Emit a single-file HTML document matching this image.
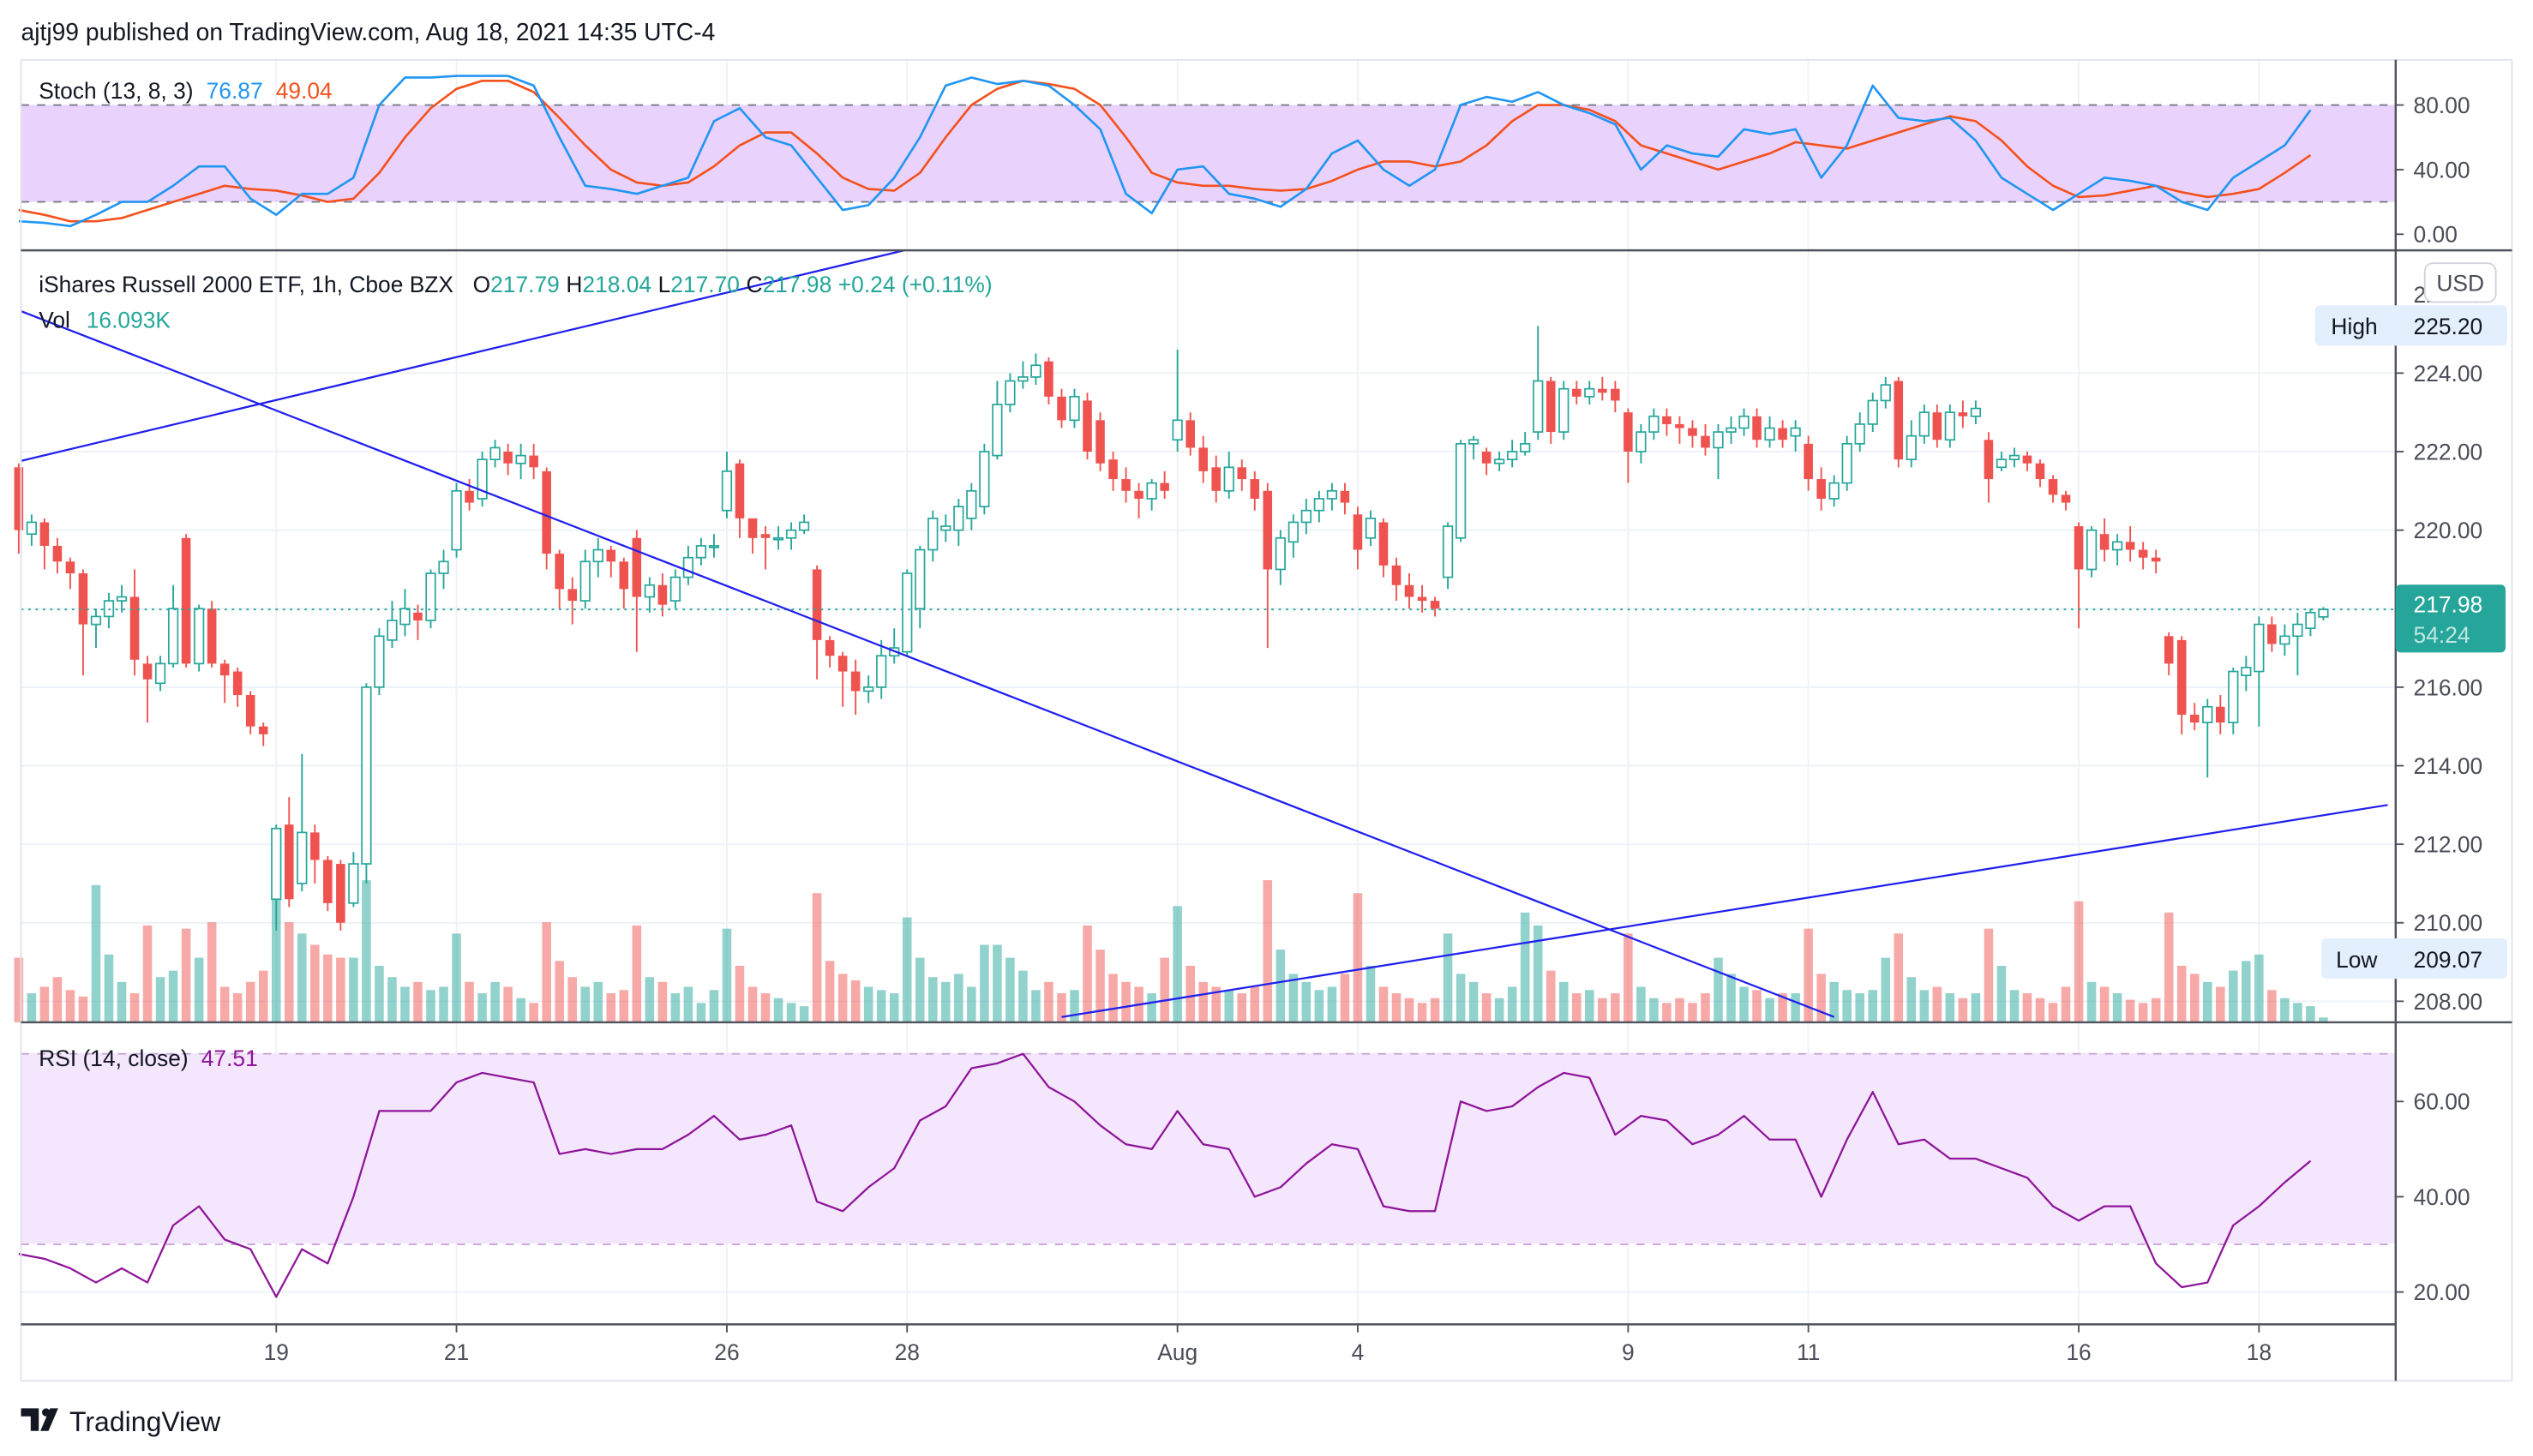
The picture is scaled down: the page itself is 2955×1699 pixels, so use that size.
<!DOCTYPE html>
<html><head><meta charset="utf-8">
<style>
html,body{margin:0;padding:0;background:#fff;}
svg{display:block;font-family:"Liberation Sans",sans-serif;}
</style></head>
<body>
<svg id="chart" width="2955" height="1699" viewBox="0 0 1568 901.5" xmlns="http://www.w3.org/2000/svg">
<rect x="0" y="0" width="1568" height="901.5" fill="#fff"/>
<text x="13" y="25" font-size="15" fill="#131722">ajtj99 published on TradingView.com, Aug 18, 2021 14:35 UTC-4</text>
<g id="grid"></g>
<rect x="13" y="65" width="1470" height="60" fill="#e9d3fd"/>
<rect x="13" y="652" width="1470" height="118" fill="#f4e6fd"/>
<g id="bands"></g>
<g id="vol"></g>
<g id="candles"></g>
<g id="lines"></g>
<g id="axes"></g>
</svg>
<script>
// ---------- DATA ----------
const firstBar = -20;
const dayLabels = ["19","21","26","28","Aug","4","9","11","16","18"];
const dayLabelBars = [0,14,35,49,70,84,105,119,140,154];
const priceTicks = [224,222,220,218,216,214,212,210,208];
const stochTicks = [80,40,0];
const rsiTicks = [60,40,20];
const opens = [221.6,219.9,220.2,219.6,219.2,218.9, 217.6,217.8,218.2,218.3,216.6,216.1,216.6, 219.8,216.6,218.0,216.6,216.4,215.8,215.0,
210.6,212.5,211.0,212.3,211.6,211.5,210.5, 211.5,216.0,217.2,217.6,217.9,217.7,218.9, 219.5,221.0,220.8,221.8,222.0,221.7,221.9,
221.5,219.4,218.5,218.2,219.2,219.5,219.2, 219.8,218.3,218.6,218.2,218.8,219.3,219.6, 220.5,221.7,220.3,219.9,219.8,219.8,220.0,
219.0,217.2,216.8,216.4,215.9,216.0,216.8, 216.9,218.0,219.5,220.0,220.0,220.3,220.6, 221.9,223.2,223.8,223.9,224.3,223.4,222.8,
223.3,222.8,221.8,221.3,221.0,220.8,221.2, 222.3,222.8,222.1,221.6,221.0,221.6,221.3, 221.0,219.0,219.7,220.2,220.5,220.8,221.0,
220.4,219.8,220.2,219.1,218.6,218.3,218.2, 218.8,219.8,222.2,222.0,221.7,221.8,222.0, 222.5,223.8,222.5,223.6,223.4,223.6,223.6,
223.0,222.0,222.5,222.9,222.7,222.6,222.4, 222.1,222.5,222.6,222.9,222.3,222.6,222.4, 222.2,221.3,220.8,221.2,222.2,222.7,223.3,
223.8,221.8,222.4,223.0,222.3,223.0,222.9, 222.3,221.6,221.8,221.9,221.7,221.3,220.9, 220.1,219.0,219.9,219.5,219.7,219.5,219.3,
217.3,217.2,215.3,215.1,215.5,215.1,216.3, 216.4,217.6,217.1,217.3,217.5,217.79];
const highs = [221.7,220.4,220.3,219.8,219.3,219.0, 218.0,218.4,218.6,219.0,216.8,216.8,218.6, 219.9,218.1,218.2,216.7,216.5,215.9,215.1,
212.5,213.2,214.3,212.5,211.7,211.6,211.8, 216.1,217.5,218.2,218.5,218.1,219.0,219.5, 221.2,221.3,222.0,222.3,222.2,222.2,222.2,
221.6,219.5,218.8,219.5,219.8,219.6,219.3, 220.0,218.8,218.9,219.0,219.6,219.8,219.9, 222.0,221.8,220.2,220.1,220.1,220.2,220.4,
219.1,217.3,216.9,216.7,216.3,217.2,217.5, 219.0,219.6,220.5,220.4,220.8,221.2,222.2, 223.8,224.0,224.3,224.5,224.4,223.6,223.6,
223.5,223.0,222.0,221.6,221.2,221.3,221.5, 224.6,223.0,222.4,221.9,222.0,221.8,221.5, 221.2,220.0,220.4,220.8,221.0,221.2,221.2,
220.6,220.5,220.3,219.3,218.9,218.6,218.3, 220.2,222.3,222.4,222.1,222.0,222.3,222.5, 225.2,223.9,223.8,223.8,223.8,223.9,223.8,
223.1,222.7,223.1,223.1,222.9,222.8,222.7, 222.7,222.9,223.1,223.1,222.9,222.8,222.8, 222.4,221.6,221.4,222.4,223.0,223.5,223.9,
223.9,222.8,223.2,223.2,223.2,223.3,223.3, 222.5,222.0,222.1,222.0,221.8,221.4,221.0, 220.2,220.1,220.3,219.9,220.1,219.7,219.5,
217.4,217.3,215.6,215.7,215.8,216.5,216.8, 217.8,217.8,217.6,217.9,218.0,218.04];
const lows = [219.4,219.6,219.0,218.9,218.5,216.3, 217.0,217.5,217.9,216.3,215.1,215.9,216.5, 216.5,216.4,216.5,215.6,215.5,214.8,214.5,
209.8,210.4,210.8,211.0,210.3,209.8,210.4, 211.0,215.8,217.0,217.3,217.2,217.5,218.5, 219.3,220.5,220.6,221.6,221.4,221.3,221.3,
219.0,218.0,217.6,218.0,218.8,218.8,218.0, 216.9,217.9,217.8,218.0,218.6,219.1,219.3, 220.3,219.8,219.4,219.0,219.5,219.5,219.9,
216.2,216.5,215.5,215.3,215.6,215.7,216.6, 216.8,217.5,219.2,219.7,219.6,220.0,220.4, 221.8,223.0,223.6,223.7,223.2,222.6,222.6,
221.8,221.5,221.0,220.7,220.3,220.5,220.8, 222.0,221.9,221.2,220.7,220.8,221.0,220.5, 217.0,218.6,219.3,219.9,220.2,220.5,220.4,
219.0,219.6,218.8,218.2,218.0,217.9,217.8, 218.5,219.7,221.8,221.4,221.5,221.6,221.9, 222.3,222.2,222.3,223.2,223.2,223.3,223.0,
221.2,221.7,222.3,222.4,222.2,222.1,221.9, 221.3,222.2,222.4,222.1,222.1,222.1,222.0, 221.0,220.5,220.6,221.0,222.0,222.5,223.1,
221.6,221.6,222.2,222.1,222.1,222.6,222.7, 220.7,221.5,221.6,221.5,221.1,220.7,220.5, 217.5,218.8,219.2,219.1,219.2,219.0,218.9,
216.3,214.8,214.9,213.7,214.8,214.8,215.9, 215.0,216.9,216.8,216.3,217.3,217.70];
const closes = [220.0,220.2,219.6,219.2,218.9,217.6, 217.8,218.2,218.3,216.7,216.2,216.6,218.0, 216.6,218.0,216.6,216.3,215.8,215.0,214.8,
212.4,210.6,212.3,211.6,210.5,210.0,211.5, 216.0,217.3,217.7,218.0,217.7,218.9,219.2, 221.0,220.7,221.8,222.1,221.7,221.9,221.6,
219.4,218.5,218.2,219.2,219.5,219.2,218.5, 218.3,218.6,218.1,218.8,219.3,219.6,219.6, 221.5,220.3,219.8,219.8,219.8,220.0,220.2,
217.2,216.8,216.4,215.9,216.0,216.8,217.0, 218.9,219.5,220.3,220.1,220.6,221.0,222.0, 223.2,223.8,223.9,224.2,223.4,222.8,223.4,
222.0,221.7,221.3,221.0,220.8,221.2,221.0, 222.8,222.1,221.5,221.0,221.6,221.3,220.8, 219.0,219.8,220.2,220.5,220.8,221.0,220.7,
219.5,220.3,219.1,218.6,218.3,218.2,218.0, 220.1,222.2,222.3,221.7,221.8,222.0,222.2, 223.8,222.5,223.6,223.4,223.6,223.5,223.3,
222.0,222.5,222.9,222.7,222.6,222.4,222.1, 222.5,222.6,222.9,222.3,222.6,222.3,222.6, 221.3,220.8,221.2,222.2,222.7,223.3,223.7,
221.8,222.4,223.0,222.3,223.0,222.9,223.1, 221.3,221.8,221.9,221.7,221.3,220.9,220.7, 219.0,220.0,219.5,219.7,219.5,219.3,219.2,
216.6,215.3,215.1,215.5,215.1,216.4,216.5, 217.6,217.1,217.3,217.6,217.9,217.98];
const volumes = [40,18,22,28,20,16, 85,42,25,18,60,28,32, 58,40,62,22,18,25,32,
120,62,55,48,42,40,40, 88,35,28,22,25,20,22, 55,25,18,25,22,15,12,
62,38,28,22,25,18,20, 60,28,25,18,22,12,20, 58,35,22,18,15,12,10,
80,38,30,26,22,20,18, 65,40,28,25,30,22,48, 48,40,32,20,25,18,20,
60,45,30,25,22,18,40, 72,35,25,22,20,18,22, 88,45,30,25,20,22,30,
80,35,22,18,15,12,15, 55,30,25,18,15,22,68, 60,32,25,18,20,15,18,
55,22,15,12,15,12,18, 40,30,22,20,15,18,18, 58,30,25,20,18,20,40,
55,28,20,22,18,15,18, 58,35,20,18,15,12,22, 75,25,22,18,14,12,15,
68,35,30,25,22,32,38, 42,20,15,12,10,3];
// oscillators sampled every 2 bars
const stochK = [8,7,5,12,20,20,30,42,42,22,12,25,25,35,80,97,97,98,98,98,92,60,30,28,25,30,35,70,78,60,55,35,15,18,35,60,92,97,93,95,92,80,65,25,13,40,42,25,22,17,28,50,58,40,30,40,80,85,82,88,80,75,68,40,55,50,48,65,62,65,35,55,92,72,70,72,58,35,25,15,25,35,33,30,20,15,35,45,55,76.87];
const stochD = [15,12,8,8,10,15,20,25,30,28,27,24,20,22,38,60,78,90,95,95,88,72,55,40,32,30,32,42,55,63,63,50,35,28,27,38,60,80,90,95,93,90,80,60,38,32,30,30,28,27,28,33,40,45,45,42,45,55,70,80,80,77,70,55,50,45,40,45,50,57,55,53,58,63,68,73,70,58,42,30,23,24,27,30,26,23,25,28,38,49.04];
const rsi = [28,27,25,22,25,22,34,38,31,29,19,29,26,40,58,58,58,64,66,65,64,49,50,49,50,50,53,57,52,53,55,39,37,42,46,56,59,67,68,70,63,60,55,51,50,58,51,50,40,42,47,51,50,38,37,37,60,58,59,63,66,65,53,57,56,51,53,57,52,52,40,52,62,51,52,48,48,46,44,38,35,38,38,26,21,22,34,38,43,47.51];
// trendlines: [barA, priceA, barB, priceB]
const trend1 = [-20, 221.75, 51, 227.3];
const trend2 = [-20, 225.6, 121, 207.6];
const trend3 = [61, 207.6, 164, 213.0];

// ---------- SCALES ----------
const NS="http://www.w3.org/2000/svg";
const L=13, R=1483;
const bx = k => 171 + k*7.97;
const py = p => 231 + (224-p)*24.31;
const sy = v => 145 - v;
const ry = v => 800 - (v-20)*2.95;
const vy = v => 633 - v;
function mk(tag, attrs, parent){const e=document.createElementNS(NS,tag);for(const k in attrs)e.setAttribute(k,attrs[k]);parent.appendChild(e);return e;}
const G=id=>document.getElementById(id);

// grid
const grid=G('grid');
dayLabelBars.forEach(k=>{const l=mk('line',{x1:bx(k),x2:bx(k),y1:37,y2:820,stroke:'#eef1f6','stroke-width':1},grid);

});
priceTicks.forEach(p=>{const l=mk('line',{x1:L,x2:R,y1:py(p),y2:py(p),stroke:'#eef1f6'},grid);

});
[40].forEach(v=>{mk('line',{x1:L,x2:R,y1:sy(v),y2:sy(v),stroke:'#d8c4f0'},grid);});
rsiTicks.forEach(v=>{mk('line',{x1:L,x2:R,y1:ry(v),y2:ry(v),stroke:'#eef1f6'},grid);});

// bands dashed lines
const bands=G('bands');
[80,20].forEach(v=>{const l=mk('line',{x1:L,x2:R,y1:sy(v),y2:sy(v),stroke:'#787b86','stroke-dasharray':'5,5'},bands);

});
[70,30].forEach(v=>{const l=mk('line',{x1:L,x2:R,y1:ry(v),y2:ry(v),stroke:'#c7a6d6','stroke-dasharray':'5,5'},bands);

});

// volume + candles
const vol=G('vol'), cg=G('candles');
closes.forEach((c,i)=>{
 const k=firstBar+i, x=bx(k), o=opens[i], up=c>=o;
 const v=mk('rect',{x:x-2.8,y:vy(volumes[i]),width:5.6,height:volumes[i],fill:up?'#26a69a':'#ef5350','fill-opacity':0.5},vol);
 
 
 const col=up?'#26a69a':'#ef5350';
 const w=mk('line',{x1:x,x2:x,y1:py(highs[i]),y2:py(lows[i]),stroke:col,'stroke-width':1},cg);
 
 
 const top=py(Math.max(o,c)), h=Math.max(1,Math.abs(py(o)-py(c)));
 const b=mk('rect',{x:x-2.8,y:top,width:5.6,height:h,fill:up?'#ffffff':col,stroke:col,'stroke-width':up?0.9:0},cg);
 
 
});

// current price dotted line
const cp=mk('line',{x1:L,x2:R,y1:py(closes[closes.length-1]),y2:py(closes[closes.length-1]),stroke:'#26a69a','stroke-dasharray':'1.5,3'},G('lines'));



// oscillator lines
function poly(arr, yf, color, name, w){
 const pts=arr.map((v,j)=>bx(firstBar+2*j).toFixed(1)+','+yf(v).toFixed(1)).join(' ');
 const p=mk('polyline',{points:pts,fill:'none',stroke:color,'stroke-width':w||1.4,'stroke-linejoin':'round'},G('lines'));
 
 
}
poly(stochD, sy, '#f4511e', 'stoch-d-line');
poly(stochK, sy, '#2196f3', 'stoch-k-line');
poly(rsi, ry, '#8e1599', 'rsi-line', 1.2);

// trendlines, clipped to main pane
const cl=mk('clipPath',{id:'mainclip'},G('lines'));
mk('rect',{x:L,y:155,width:R-L,height:478},cl);
[trend1,trend2,trend3].forEach(t=>{
 const l=mk('line',{x1:bx(t[0]),y1:py(t[1]),x2:bx(t[2]),y2:py(t[3]),stroke:'#2020ee','stroke-width':1.2,'clip-path':'url(#mainclip)'},G('lines'));
 
 
});

// axes & frame
const ax=G('axes');
mk('line',{x1:L,x2:1555,y1:37,y2:37,stroke:'#e0e3eb'},ax);
mk('line',{x1:L,x2:L,y1:37,y2:855,stroke:'#e0e3eb'},ax);
mk('line',{x1:1555,x2:1555,y1:37,y2:855,stroke:'#e0e3eb'},ax);
mk('line',{x1:L,x2:1555,y1:855,y2:855,stroke:'#e0e3eb'},ax);
[155,633].forEach(y=>{const l=mk('line',{x1:L,x2:1555,y1:y,y2:y,stroke:'#50535e','stroke-width':1.3},ax);
 
 });
mk('line',{x1:L,x2:R,y1:820,y2:820,stroke:'#50535e','stroke-width':1.3},ax);
mk('line',{x1:R,x2:R,y1:37,y2:855,stroke:'#50535e','stroke-width':1.3},ax);

function txt(s,x,y,attrs,name,inter){const t=mk('text',Object.assign({x:x,y:y,'font-size':14,fill:'#131722'},attrs||{}),ax);t.textContent=s;
 
 return t;}

// price tick labels
txt('226.00',1494,py(226)+5,{fill:'#4a4d57'},'price-tick-label');
priceTicks.forEach(p=>{mk('line',{x1:R,x2:R+5,y1:py(p),y2:py(p),stroke:'#50535e'},ax);
 txt(p.toFixed(2),1494,py(p)+5,{fill:'#4a4d57'},'price-tick-label');});
stochTicks.forEach(v=>{mk('line',{x1:R,x2:R+5,y1:sy(v),y2:sy(v),stroke:'#50535e'},ax);
 txt(v.toFixed(2),1494,sy(v)+5,{fill:'#4a4d57'},'stoch-tick-label');});
rsiTicks.forEach(v=>{mk('line',{x1:R,x2:R+5,y1:ry(v),y2:ry(v),stroke:'#50535e'},ax);
 txt(v.toFixed(2),1494,ry(v)+5,{fill:'#4a4d57'},'rsi-tick-label');});
dayLabels.forEach((s,i)=>{mk('line',{x1:bx(dayLabelBars[i]),x2:bx(dayLabelBars[i]),y1:820,y2:825,stroke:'#50535e'},ax);
 txt(s,bx(dayLabelBars[i]),842,{'text-anchor':'middle',fill:'#4a4d57'},'time-tick-label');});

// USD box
const ub=mk('rect',{x:1501,y:163,width:44,height:24,rx:5,fill:'#fff',stroke:'#d1d4dc'},ax);


txt('USD',1523,180,{'text-anchor':'middle',fill:'#4a4d57'},'currency-label',true);
// High/Low
mk('rect',{x:1433,y:189,width:119,height:25,rx:3,fill:'#e3effd'},ax);
txt('High',1443,207,{},'high-label');
txt('225.20',1494,207,{},'high-value');
mk('rect',{x:1437,y:581,width:115,height:25,rx:3,fill:'#e3effd'},ax);
txt('Low',1446,599,{},'low-label');
txt('209.07',1494,599,{},'low-value');
// current price label
const cb=mk('rect',{x:R,y:362,width:68,height:42,rx:3,fill:'#26a69a'},ax);


txt('217.98',1494,379,{fill:'#fff'},'last-price-value');
txt('54:24',1494,398,{fill:'#bfe7e2'},'bar-countdown');

// legends
const lg1=txt('',24,61,{},'stoch-legend');
lg1.innerHTML='<tspan fill="#131722">Stoch (13, 8, 3)</tspan><tspan dx="8" fill="#2196f3">76.87</tspan><tspan dx="8" fill="#f4511e">49.04</tspan>';
const lg2=txt('',24,181,{},'main-legend');
lg2.innerHTML='<tspan fill="#131722">iShares Russell 2000 ETF, 1h, Cboe BZX</tspan><tspan dx="12" fill="#131722">O</tspan><tspan fill="#26a69a">217.79</tspan><tspan dx="4" fill="#131722">H</tspan><tspan fill="#26a69a">218.04</tspan><tspan dx="4" fill="#131722">L</tspan><tspan fill="#26a69a">217.70</tspan><tspan dx="4" fill="#131722">C</tspan><tspan fill="#26a69a">217.98</tspan><tspan dx="4" fill="#26a69a">+0.24 (+0.11%)</tspan>';
const lg3=txt('',24,203,{},'volume-legend');
lg3.innerHTML='<tspan fill="#131722">Vol</tspan><tspan dx="10" fill="#26a69a">16.093K</tspan>';
const lg4=txt('',24,660,{},'rsi-legend');
lg4.innerHTML='<tspan fill="#131722">RSI (14, close)</tspan><tspan dx="8" fill="#8e1599">47.51</tspan>';

// logo
const lgo=mk('g',{},ax);


mk('path',{d:'M13 872 h11 v14 h-5 v-9 h-6 z M25 886 l6 -14 h5 l-6 14 z',fill:'#131722'},lgo);
mk('circle',{cx:28.5,cy:874.5,r:2.5,fill:'#131722'},lgo);
const lt=mk('text',{x:43,y:886,'font-size':17,fill:'#131722'},lgo);lt.textContent='TradingView';
</script>
</body></html>
